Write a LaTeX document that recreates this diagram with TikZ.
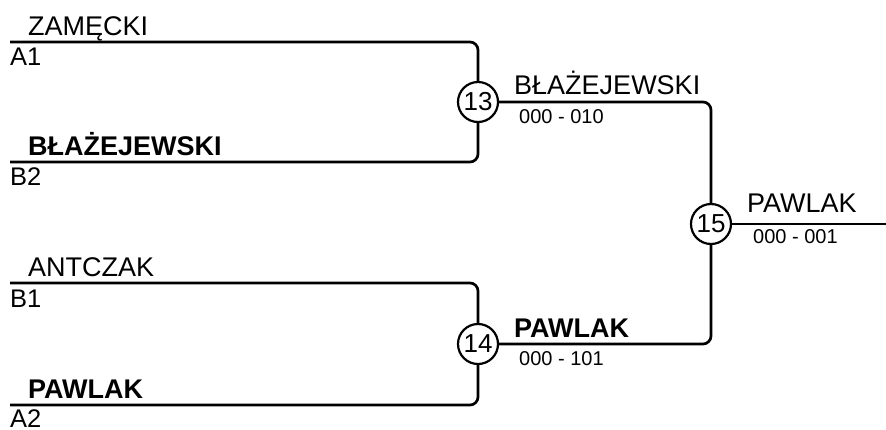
\documentclass[tikz,border=0pt]{standalone}
\usepackage{fontspec}
\setmainfont{Liberation Sans}
\usetikzlibrary{positioning}
\tikzset{
  wire/.style={line width=2.7pt, rounded corners=8pt},
  match/.style={draw, circle, line width=2.2pt, minimum size=40pt, inner sep=0pt, font=\fontsize{26}{28}\selectfont},
  player/.style={anchor=base west, inner sep=0pt, font=\fontsize{27}{30}\selectfont},
  winner/.style={player, font=\bfseries\fontsize{27}{30}\selectfont},
  seed/.style={anchor=base west, inner sep=0pt, font=\fontsize{25.5}{28}\selectfont},
  score/.style={anchor=base west, inner sep=0pt, font=\fontsize{20}{24}\selectfont},
}
\begin{document}
\begin{tikzpicture}[x=1pt, y=-1pt]
  \useasboundingbox (0,0) rectangle (886,429);
  \node[match] (M13) at (478,102) {13};
  \node[match] (M14) at (478,344) {14};
  \node[match] (M15) at (711,224) {15};
  \coordinate (A1) at (10,42);
  \coordinate (B2) at (10,162);
  \coordinate (B1) at (10,283);
  \coordinate (A2) at (10,405);
  \coordinate (FINAL) at (886,224);
  \draw[wire] (A1) -| (M13);
  \draw[wire] (B2) -| (M13);
  \draw[wire] (B1) -| (M14);
  \draw[wire] (A2) -| (M14);
  \draw[wire] (M13) -| (M15);
  \draw[wire] (M14) -| (M15);
  \draw[wire] (M15) -- (FINAL);
  \node[player] (pA1) at (28,35) {ZAMĘCKI};
  \node[seed] (sA1) at (10,65) {A1};
  \node[winner] (pB2) at (28,155) {BŁAŻEJEWSKI};
  \node[seed] (sB2) at (10,185) {B2};
  \node[player] (pB1) at (28,276) {ANTCZAK};
  \node[seed] (sB1) at (10,307) {B1};
  \node[winner] (pA2) at (28,398) {PAWLAK};
  \node[seed] (sA2) at (10,427) {A2};
  \node[player] (w13) at (514,94) {BŁAŻEJEWSKI};
  \node[score] (r13) at (519,123) {000 - 010};
  \node[winner] (w14) at (514,337) {PAWLAK};
  \node[score] (r14) at (519,365) {000 - 101};
  \node[player] (w15) at (747,212) {PAWLAK};
  \node[score] (r15) at (753,243) {000 - 001};
\end{tikzpicture}
\end{document}
